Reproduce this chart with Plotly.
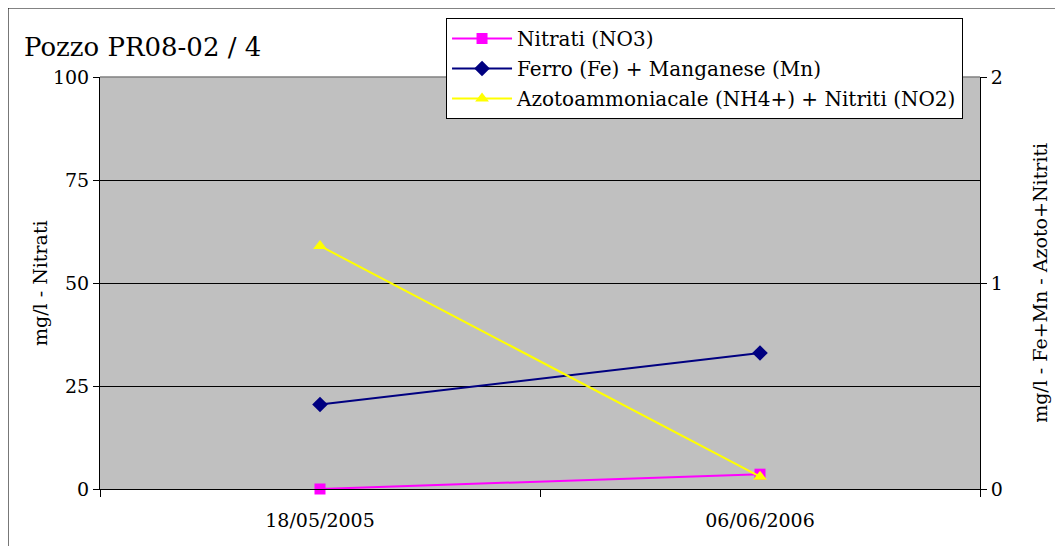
import plotly.graph_objects as go

# Dati
dates = ["18/05/2005", "06/06/2006"]
nitrati = [0.0, 3.6]            # asse sinistro (mg/l)
ferro_manganese = [0.41, 0.66]  # asse destro (mg/l)
azoto_nitriti = [1.18, 0.06]    # asse destro (mg/l)

FONT = "'DejaVu Serif', 'Liberation Serif', serif"

fig = go.Figure()

fig.add_trace(go.Scatter(
    x=dates, y=nitrati, name="Nitrati (NO3)", legendgroup="a",
    mode="lines+markers", cliponaxis=False,
    line=dict(color="#FF00FF", width=2),
    marker=dict(symbol="square", size=11, color="#FF00FF"),
))
fig.add_trace(go.Scatter(
    x=dates, y=ferro_manganese, name="Ferro (Fe) + Manganese (Mn)", legendgroup="b",
    mode="lines+markers", yaxis="y2", cliponaxis=False,
    line=dict(color="#000080", width=2),
    marker=dict(symbol="diamond", size=12, color="#000080"),
))
fig.add_trace(go.Scatter(
    x=dates, y=azoto_nitriti, name="Azotoammoniacale (NH4+) + Nitriti (NO2)", legendgroup="c",
    mode="lines+markers", yaxis="y2", cliponaxis=False,
    line=dict(color="#FFFF00", width=2),
    marker=dict(symbol="triangle-up", size=12, color="#FFFF00"),
))

fig.update_layout(
    width=1055, height=538,
    margin=dict(l=92, r=83, t=69, b=57, autoexpand=False),
    paper_bgcolor="white",
    plot_bgcolor="#C0C0C0",
    font=dict(family=FONT, size=19, color="black"),
    showlegend=True,
    legend=dict(
        xref="container", yref="container",
        x=0.4152, y=0.9814, xanchor="left", yanchor="top",
        bgcolor="white", bordercolor="black", borderwidth=1,
        font=dict(family=FONT, size=20),
        tracegroupgap=1, itemwidth=60,
    ),
    xaxis=dict(
        type="category", range=[-0.5, 1.5],
        showgrid=False, showline=True, linecolor="black", linewidth=1,
        ticks="outside", tickson="boundaries", ticklen=7, tickcolor="black",
        ticklabelstandoff=14,
        tickfont=dict(family=FONT, size=19),
    ),
    yaxis=dict(
        range=[0, 100], tickvals=[0, 25, 50, 75, 100],
        showgrid=True, gridcolor="black", gridwidth=1,
        showline=True, linecolor="black", linewidth=1,
        ticks="outside", ticklen=6, tickcolor="black",
        zeroline=False,
        tickfont=dict(family=FONT, size=19),
    ),
    yaxis2=dict(
        overlaying="y", side="right",
        range=[0, 2], tickvals=[0, 1, 2],
        showgrid=False, showline=True, linecolor="black", linewidth=1,
        ticks="outside", ticklen=6, tickcolor="black",
        zeroline=False,
        tickfont=dict(family=FONT, size=19),
    ),
)

# titoli degli assi verticali
fig.add_annotation(
    text="mg/l - Nitrati", xref="paper", yref="paper",
    x=-0.0682, y=0.5, textangle=-90, showarrow=False,
    xanchor="center", yanchor="middle", font=dict(family=FONT, size=19),
)
fig.add_annotation(
    text="mg/l - Fe+Mn - Azoto+Nitriti", xref="paper", yref="paper",
    x=1.068, y=0.5, textangle=-90, showarrow=False,
    xanchor="center", yanchor="middle", font=dict(family=FONT, size=19),
)

# bordo superiore dell'area del grafico
fig.add_shape(type="line", xref="paper", yref="paper", x0=0, x1=1, y0=1, y1=1,
              line=dict(color="#808080", width=1.5))

# cornice esterna del grafico
fig.add_shape(type="rect", xref="paper", yref="paper",
              x0=-0.1045, x1=1.3, y0=-0.3, y1=1.1675,
              line=dict(color="black", width=1), layer="below")

fig.add_annotation(
    text="Pozzo PR08-02 / 4", xref="paper", yref="paper",
    x=-0.0886, y=1.073, xanchor="left", yanchor="middle",
    showarrow=False, font=dict(family=FONT, size=26),
)

fig.write_html("out.html")
